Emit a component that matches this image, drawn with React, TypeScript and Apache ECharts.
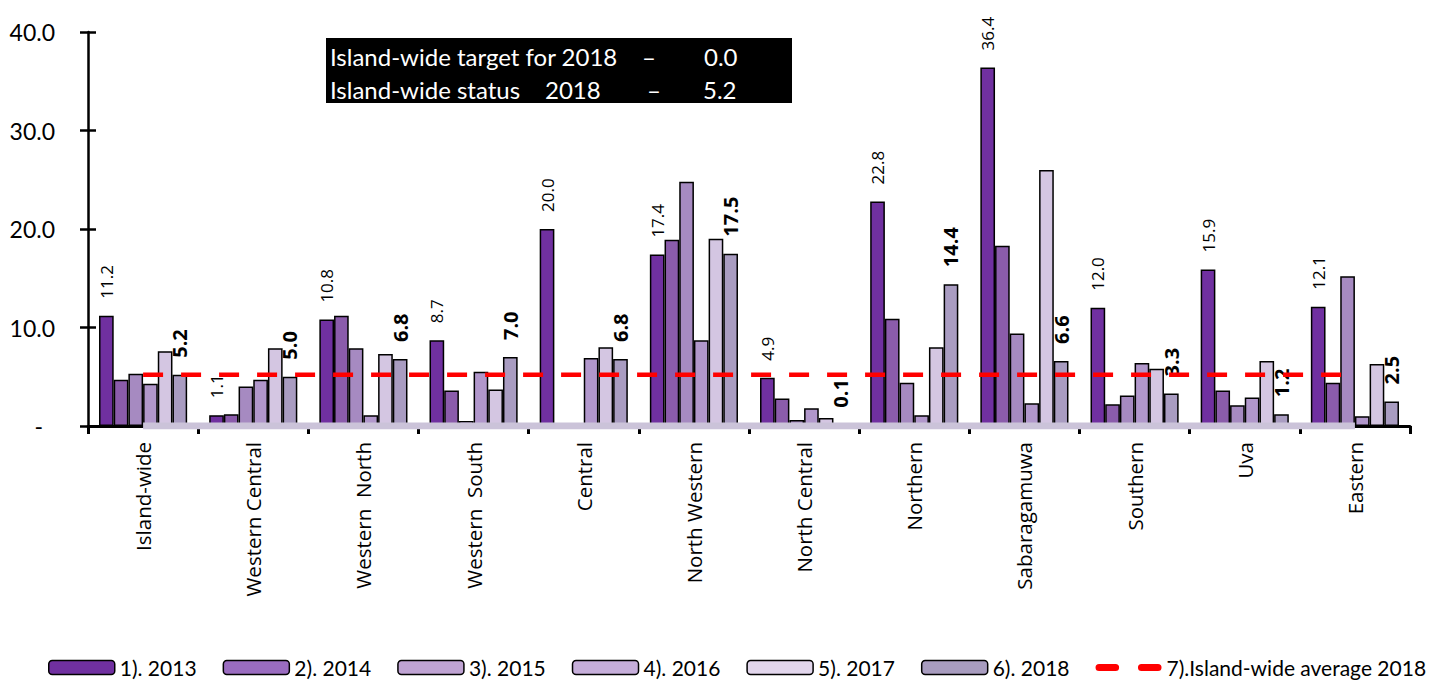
import React, { useEffect, useRef } from "react";
import * as echarts from "echarts";

const categories = [
  "Island-wide", "Western Central", "Western  North", "Western  South", "Central",
  "North Western", "North Central", "Northern", "Sabaragamuwa", "Southern", "Uva", "Eastern",
];
const seriesNames = ["1). 2013", "2). 2014", "3). 2015", "4). 2016", "5). 2017", "6). 2018"];
const v2013 = [11.2, 1.1, 10.8, 8.7, 20.0, 17.4, 4.9, 22.8, 36.4, 12.0, 15.9, 12.1];
const v2014 = [4.7, 1.2, 11.2, 3.6, null, 18.9, 2.8, 10.9, 18.3, 2.2, 3.6, 4.4];
const v2015 = [5.3, 4.0, 7.9, 0.5, null, 24.8, 0.6, 4.4, 9.4, 3.1, 2.1, 15.2];
const v2016 = [4.3, 4.7, 1.1, 5.5, 6.9, 8.7, 1.8, 1.1, 2.3, 6.4, 2.9, 1.0];
const v2017 = [7.6, 7.9, 7.3, 3.7, 8.0, 19.0, 0.8, 8.0, 26.0, 5.8, 6.6, 6.3];
const v2018 = [5.2, 5.0, 6.8, 7.0, 6.8, 17.5, 0.1, 14.4, 6.6, 3.3, 1.2, 2.5];
const avgName = "7).Island-wide average 2018";
const avg2018 = [5.2, 5.2, 5.2, 5.2, 5.2, 5.2, 5.2, 5.2, 5.2, 5.2, 5.2, 5.2];
const targetLine = [0, 0, 0, 0, 0, 0, 0, 0, 0, 0, 0, 0];
const yTicks = [0, 10, 20, 30, 40];

const colors = ["#7030A0", "#8B5CAB", "#A68AC1", "#B197CB", "#D4C6E2", "#A99CC1"];
const legendColors = ["#7030A0", "#9A6CC0", "#BFA3D3", "#C6AEDA", "#E2D6EC", "#A89CBF"];

export default function App() {
  const ref = useRef<HTMLDivElement>(null);
  useEffect(() => {
    if (!ref.current) return;
    const chart = echarts.init(ref.current, null, { renderer: "svg" });
    const values = [v2013, v2014, v2015, v2016, v2017, v2018];
    const barSeries = values.map((d, i) => ({
      name: seriesNames[i],
      type: "bar",
      data: d,
      barGap: "0%",
      barCategoryGap: "20%",
      itemStyle: { color: colors[i], borderColor: "#000", borderWidth: 1.5 },
      emphasis: { disabled: true },
      label:
        i === 0 || i === 5
          ? {
              show: true,
              position: "top",
              distance: 17,
              rotate: 90,
              align: "left",
              verticalAlign: "middle",
              fontFamily: "Open Sans",
              fontSize: i === 0 ? 17 : 20,
              fontWeight: i === 0 ? "normal" : "bold",
              color: "#000",
              formatter: (p: any) => (p.value == null ? "" : Number(p.value).toFixed(1)),
            }
          : { show: false },
    }));
    const legendData: any[] = seriesNames.map((n, i) => ({
      name: n,
      itemStyle: { color: legendColors[i], borderColor: "#000", borderWidth: 1.5 },
    }));
    legendData.push({
      name: avgName,
      icon: "path://M3,0 L17,0 A3,3 0 0 1 17,6 L3,6 A3,3 0 0 1 3,0 Z M39,0 L53,0 A3,3 0 0 1 53,6 L39,6 A3,3 0 0 1 39,0 Z",
      itemStyle: { color: "#FF0000", borderWidth: 0 },
    });
    chart.setOption({
      animation: false,
      grid: { left: 88, right: 39, top: 32, bottom: 258 },
      legend: {
        data: legendData,
        left: 43,
        top: 652,
        itemWidth: 66,
        itemHeight: 14,
        itemGap: 26,
        textStyle: { fontFamily: "Lato", fontSize: 21, color: "#000" },
      },
      xAxis: {
        type: "category",
        data: categories,
        axisLine: { lineStyle: { color: "#000", width: 3 } },
        axisTick: { show: true, length: 8, lineStyle: { color: "#000", width: 3 } },
        axisLabel: {
          rotate: 90,
          interval: 0,
          margin: 16,
          fontFamily: "Open Sans",
          fontSize: 20.5,
          color: "#000",
        },
      },
      yAxis: [
        {
          type: "value",
          min: 0,
          max: 40,
          interval: 10,
          splitLine: { show: false },
          axisLine: { show: true, lineStyle: { color: "#000", width: 2.5 } },
          axisTick: { show: true, length: 8, lineStyle: { color: "#000", width: 2.5 } },
          axisLabel: {
            margin: 33,
            fontFamily: "Lato",
            fontSize: 23,
            color: "#000",
            formatter: (v: number) => (yTicks.indexOf(v) === 0 ? "{d|-}" : v.toFixed(1)),
            rich: { d: { fontFamily: "Lato", fontSize: 23, color: "#000", padding: [0, 12, 0, 0] } },
          },
        },
        {
          type: "value",
          min: 0,
          max: 40,
          interval: 10,
          position: "left",
          splitLine: { show: false },
          axisLine: { show: false },
          axisTick: { show: true, inside: true, length: 8, lineStyle: { color: "#000", width: 2.5 } },
          axisLabel: { show: false },
        },
      ],
      series: [
        ...barSeries,
        {
          name: "base",
          type: "line",
          data: targetLine,
          symbol: "none",
          z: 5,
          lineStyle: { color: "#CBC3D9", width: 7 },
          silent: true,
        },
        {
          name: avgName,
          type: "line",
          data: avg2018,
          symbol: "none",
          z: 6,
          color: "#FF0000",
          lineStyle: { color: "#FF0000", width: 4.5, type: [20, 18] },
          silent: true,
        },
      ],
      graphic: [
        { type: "rect", shape: { x: 326, y: 38, width: 466, height: 65 }, style: { fill: "#000" } },
        { type: "text", x: 330, y: 56, style: { text: "Island-wide target for 2018", fill: "#fff", font: "24px Lato", verticalAlign: "middle" } },
        { type: "text", x: 642, y: 56, style: { text: "–", fill: "#fff", font: "24px Lato", verticalAlign: "middle" } },
        { type: "text", x: 704, y: 56, style: { text: "0.0", fill: "#fff", font: "24px Lato", verticalAlign: "middle" } },
        { type: "text", x: 330, y: 89, style: { text: "Island-wide status", fill: "#fff", font: "24px Lato", verticalAlign: "middle" } },
        { type: "text", x: 545, y: 89, style: { text: "2018", fill: "#fff", font: "24px Lato", verticalAlign: "middle" } },
        { type: "text", x: 647, y: 89, style: { text: "–", fill: "#fff", font: "24px Lato", verticalAlign: "middle" } },
        { type: "text", x: 703, y: 89, style: { text: "5.2", fill: "#fff", font: "24px Lato", verticalAlign: "middle" } },
      ],
    });
    return () => chart.dispose();
  }, []);
  return <div ref={ref} style={{ width: 1449, height: 684, position: "absolute", left: 0, top: 0 }} />;
}
